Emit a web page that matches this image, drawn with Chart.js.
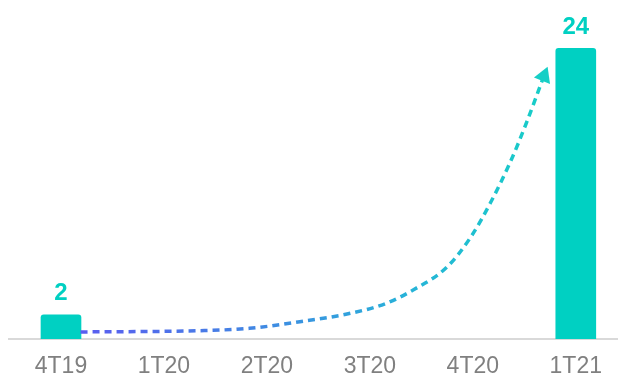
<!DOCTYPE html>
<html lang="pt">
<head>
<meta charset="UTF-8">
<title>Crescimento trimestral</title>
<script src="https://cdn.jsdelivr.net/npm/chart.js"></script>
<style>
    html, body { margin: 0; padding: 0; background: #ffffff; }
    #box { width: 618px; height: 378px; }
</style>
</head>
<body>
<div id="box"><canvas id="grafico"></canvas></div>
<script>
    // dados
    const categorias = ['4T19', '1T20', '2T20', '3T20', '4T20', '1T21'];
    const valoresBarras = [2, null, null, null, null, 24];

    // seta de tendência (posição no eixo x das categorias, valor no eixo y)
    const setaX = [0.19, 1.35, 1.83, 2.32, 2.81, 3.16, 3.42, 3.75, 3.98, 4.17, 4.36, 4.52, 4.69];
    const setaY = [0.58, 0.69, 0.88, 1.43, 2.12, 2.95, 4.05, 5.95, 8.42, 11.23, 14.54, 17.84, 21.72];

    const corBarra = '#00d0c2';

    const dadosBarras = [];
    valoresBarras.forEach((v, i) => { if (v !== null) dadosBarras.push({ x: i, y: v }); });
    const dadosSeta = setaX.map((x, i) => ({ x: x, y: setaY[i] }));

    function gradienteSeta(ctx) {
        const area = ctx.chart.chartArea;
        if (!area) return '#3a8fe0';
        const g = ctx.chart.ctx.createLinearGradient(80, 0, 550, 0);
        g.addColorStop(0, '#5a5cf0');
        g.addColorStop(0.35, '#4384e4');
        g.addColorStop(0.7, '#27b3d8');
        g.addColorStop(1, '#16cfc6');
        return g;
    }

    // rótulos acima das barras
    const rotulos = {
        id: 'rotulos',
        afterDatasetsDraw(chart) {
            const c = chart.ctx;
            const meta = chart.getDatasetMeta(0);
            c.save();
            c.fillStyle = corBarra;
            c.font = 'bold 24px "Liberation Sans", Arial, sans-serif';
            c.textAlign = 'center';
            c.textBaseline = 'middle';
            meta.data.forEach((bar, i) => {
                c.fillText(dadosBarras[i].y, bar.x, bar.y - 21);
            });
            c.restore();
        }
    };

    new Chart(document.getElementById('grafico'), {
        type: 'bar',
        data: {
            datasets: [{
                type: 'bar',
                data: dadosBarras,
                backgroundColor: corBarra,
                barThickness: 40,
                borderRadius: 3,
                borderSkipped: 'bottom',
                order: 1
            }, {
                type: 'line',
                data: dadosSeta,
                borderColor: gradienteSeta,
                borderWidth: 3.5,
                borderDash: [7, 5],
                cubicInterpolationMode: 'monotone',
                fill: false,
                pointStyle: 'triangle',
                pointRadius: ctx => ctx.dataIndex === setaX.length - 1 ? 10 : 0,
                pointRotation: 22,
                pointBackgroundColor: '#16cfc6',
                pointBorderColor: '#16cfc6',
                pointBorderWidth: 0,
                order: 0
            }]
        },
        options: {
            responsive: true,
            maintainAspectRatio: false,
            animation: false,
            layout: { autoPadding: false, padding: { left: 9, right: 0, top: 0, bottom: -16 } },
            plugins: {
                legend: { display: false },
                tooltip: { enabled: false }
            },
            scales: {
                x: {
                    type: 'linear',
                    offset: false,
                    min: -0.505,
                    max: 5.408,
                    grid: { display: false, drawTicks: false },
                    border: { display: true, color: '#d9d9d9', width: 2 },
                    afterBuildTicks: scale => {
                        scale.ticks = categorias.map((c, i) => ({ value: i }));
                    },
                    ticks: {
                        autoSkip: false,
                        maxRotation: 0,
                        padding: 16,
                        color: '#808080',
                        font: { family: '"Liberation Sans", Arial, sans-serif', size: 23, lineHeight: 1 },
                        callback: v => categorias[v]
                    }
                },
                y: {
                    display: false,
                    min: 0,
                    max: 28
                }
            }
        },
        plugins: [rotulos]
    });
</script>
</body>
</html>
